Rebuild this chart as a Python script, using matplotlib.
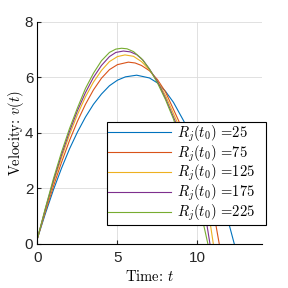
import matplotlib
matplotlib.use("Agg")
import matplotlib.pyplot as plt

plt.rcParams["font.family"] = ["Liberation Sans", "DejaVu Sans"]
plt.rcParams["mathtext.fontset"] = "cm"

# values (t, v) for each R_j(t0)
R_VALUES = [25, 75, 125, 175, 225]
COLORS = ["#0072BD", "#D95319", "#EDB120", "#7E2F8E", "#77AC30"]

t_25 = [0, 0.5, 1, 1.5, 2, 2.5, 3, 3.5, 4, 4.5, 5, 5.5, 6.2, 7, 7.5, 8, 8.5, 9.14, 9.5, 10, 10.5, 11, 11.5, 12, 12.3]
v_25 = [0.2, 1.1, 1.95, 2.72, 3.42, 4.03, 4.57, 5.03, 5.4, 5.7, 5.9, 6.02, 6.08, 5.98, 5.8, 5.5, 5.1, 4.43, 4.0, 3.35, 2.65, 1.95, 1.3, 0.65, 0]

t_75 = [0, 0.5, 1, 1.5, 2, 2.5, 3, 3.5, 4, 4.5, 5, 5.68, 6.1, 6.5, 7, 7.5, 8, 8.83, 9.5, 10, 10.5, 11.16, 11.36]
v_75 = [0.2, 1.17, 2.08, 2.93, 3.72, 4.42, 5.03, 5.55, 5.97, 6.28, 6.46, 6.55, 6.52, 6.43, 6.24, 5.92, 5.48, 4.43, 3.4, 2.6, 1.8, 0.65, 0]

t_125 = [0, 0.5, 1, 1.5, 2, 2.5, 3, 3.5, 4, 4.5, 5.0, 5.47, 6, 6.5, 7, 7.5, 8, 8.7, 9, 9.5, 10, 10.5, 10.82, 10.99]
v_125 = [0.2, 1.23, 2.2, 3.1, 3.93, 4.66, 5.3, 5.83, 6.25, 6.57, 6.75, 6.81, 6.76, 6.57, 6.27, 5.87, 5.35, 4.43, 3.98, 3.15, 2.25, 1.3, 0.65, 0]

t_175 = [0, 0.5, 1, 1.5, 2, 2.5, 3, 3.5, 4, 4.5, 4.9, 5.37, 5.8, 6.2, 6.6, 7, 7.5, 8, 8.6, 9, 9.5, 10, 10.6, 10.78]
v_175 = [0.2, 1.27, 2.28, 3.2, 4.05, 4.8, 5.45, 6.0, 6.43, 6.75, 6.9, 6.95, 6.92, 6.82, 6.62, 6.3, 5.85, 5.25, 4.43, 3.75, 2.85, 1.85, 0.65, 0]

t_225 = [0, 0.5, 1, 1.5, 2, 2.5, 3, 3.5, 4, 4.5, 4.9, 5.26, 5.6, 6, 6.5, 7, 7.5, 8, 8.5, 9, 9.5, 10, 10.4, 10.65]
v_225 = [0.2, 1.3, 2.35, 3.3, 4.15, 4.9, 5.6, 6.15, 6.6, 6.9, 7.02, 7.05, 7.03, 6.93, 6.68, 6.3, 5.8, 5.2, 4.5, 3.6, 2.65, 1.5, 0.65, 0]

series_t = [t_25, t_75, t_125, t_175, t_225]
series_v = [v_25, v_75, v_125, v_175, v_225]

fig = plt.figure(figsize=(2.88, 2.88), dpi=100)
ax = fig.add_axes([0.130, 0.153, 0.778, 0.771])

for t, v, r, c in zip(series_t, series_v, R_VALUES, COLORS):
    ax.plot(t, v, color=c, linewidth=0.8, label=r"$R_j(t_0)$ =%d" % r)

ax.set_xlim(0, 14)
ax.set_ylim(0, 8)
ax.set_xticks([0, 5, 10])
ax.set_yticks([0, 2, 4, 6, 8])
ax.grid(True, color="#dcdcdc", linewidth=0.6)
ax.set_axisbelow(True)
ax.spines["top"].set_visible(False)
ax.spines["right"].set_visible(False)
ax.tick_params(direction="in", length=3, labelsize=11, colors="#262626")
ax.tick_params(axis="x", pad=5)
ax.tick_params(axis="y", pad=3)
ax.set_xlabel(r"Time: $t$", fontsize=10.5, family="cmr10", labelpad=3)
ax.set_ylabel(r"Velocity: $v(t)$", fontsize=10.5, family="cmr10", labelpad=-1)

leg = ax.legend(loc="lower left", bbox_to_anchor=(0.309, 0.086, 0.71, 0.468),
                mode="expand", prop={"family": "cmr10", "size": 10.5},
                handlelength=4.3, handletextpad=0.4, labelspacing=-0.03,
                borderpad=0.1, fancybox=False, framealpha=1,
                edgecolor="black", borderaxespad=0)
leg.get_frame().set_linewidth(0.8)

fig.savefig("out.png", dpi=100)
